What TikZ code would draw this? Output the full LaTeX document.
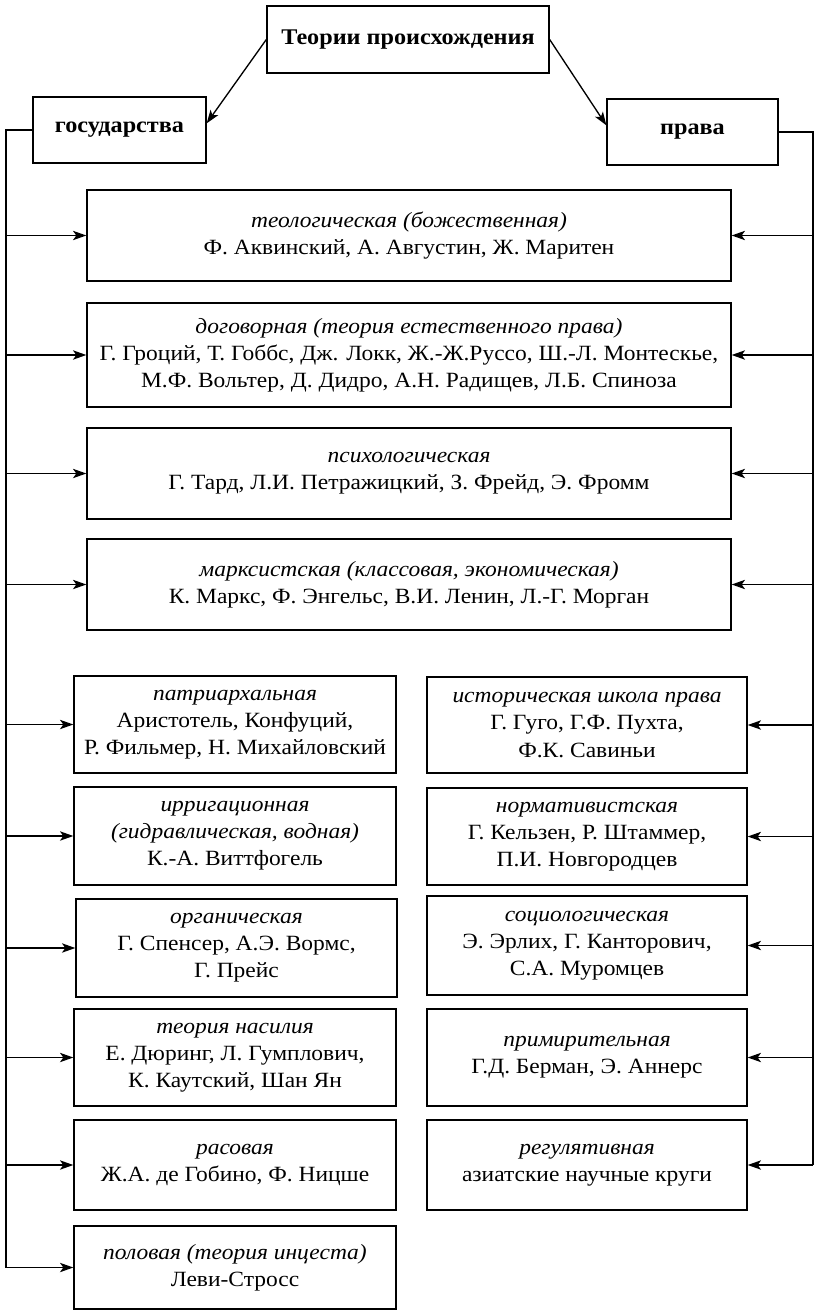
\documentclass[tikz,border=0pt]{standalone}
\usepackage{fontspec}
\setmainfont[FakeStretch=1.08]{Liberation Serif}
\usetikzlibrary{arrows.meta}
\tikzset{
  box/.style={draw, line width=1pt, inner sep=0pt, align=center,
    font=\fontsize{16.3}{20.3}\selectfont},
  head/.style={box, font=\fontsize{16.8}{20.5}\selectfont\bfseries},
  wide/.style={box, minimum width=483pt},
  lsmall/.style={box, minimum width=241.5pt},
  rsmall/.style={box, minimum width=240pt},
  bus/.style={line width=1pt},
  arr/.style={line width=1pt, -{Stealth[length=10pt,width=7pt,inset=2.5pt]}}
}
\newcommand{\ttl}[1]{\textit{#1}\\}
\begin{document}
\begin{tikzpicture}[x=0.75pt,y=-0.75pt]
\useasboundingbox (0,0) rectangle (814,1313);
% headers
\node[head, minimum width=211.5pt, minimum height=50.25pt] (top) at (408,39.5) {Теории происхождения};
\node[head, minimum width=129.75pt, minimum height=49.5pt] (state) at (119.5,130) {государства};
\node[head, minimum width=128.25pt, minimum height=49.5pt] (law) at (692.5,132) {права};
% wide boxes
\node[wide, minimum height=68.25pt] (theo) at (409,235.5) {\ttl{теологическая (божественная)}Ф. Аквинский, А. Августин, Ж. Маритен};
\node[wide, minimum height=78pt] (contract) at (409,355) {\ttl{договорная (теория естественного права)}Г. Гроций, Т. Гоббс, Дж. Локк, Ж.-Ж.Руссо, Ш.-Л. Монтескье,\\М.Ф. Вольтер, Д. Дидро, А.Н. Радищев, Л.Б. Спиноза};
\node[wide, minimum height=68.25pt] (psych) at (409,473.5) {\ttl{психологическая}Г. Тард, Л.И. Петражицкий, З. Фрейд, Э. Фромм};
\node[wide, minimum height=68.25pt] (marx) at (409,584.5) {\ttl{марксистская (классовая, экономическая)}К. Маркс, Ф. Энгельс, В.И. Ленин, Л.-Г. Морган};
% left column
\node[lsmall, minimum height=72.75pt] (patri) at (235,724.5) {\ttl{патриархальная}Аристотель, Конфуций,\\Р. Фильмер, Н. Михайловский};
\node[lsmall, minimum height=73.5pt] (irrig) at (235,836) {\ttl{ирригационная}\ttl{(гидравлическая, водная)}К.-А. Виттфогель};
\node[box, minimum width=240.75pt, minimum height=73.5pt] (organic) at (236.5,948) {\ttl{органическая}Г. Спенсер, А.Э. Вормс,\\Г. Прейс};
\node[lsmall, minimum height=72.75pt] (violence) at (235,1057.5) {\ttl{теория насилия}Е. Дюринг, Л. Гумплович,\\К. Каутский, Шан Ян};
\node[lsmall, minimum height=67.5pt] (race) at (235,1165) {\ttl{расовая}Ж.А. де Гобино, Ф. Ницше};
\node[lsmall, minimum height=62.25pt] (sex) at (235,1267.5) {\ttl{половая (теория инцеста)}Леви-Стросс};
% right column
\node[rsmall, minimum height=72pt] (hist) at (587,725) {\ttl{историческая школа права}Г. Гуго, Г.Ф. Пухта,\\Ф.К. Савиньи};
\node[rsmall, minimum height=72.75pt] (norm) at (587,836.5) {\ttl{нормативистская}Г. Кельзен, Р. Штаммер,\\П.И. Новгородцев};
\node[rsmall, minimum height=74.25pt] (socio) at (587,945.5) {\ttl{социологическая}Э. Эрлих, Г. Канторович,\\С.А. Муромцев};
\node[rsmall, minimum height=72.75pt] (concil) at (587,1057.5) {\ttl{примирительная}Г.Д. Берман, Э. Аннерс};
\node[rsmall, minimum height=67.5pt] (regul) at (587,1165) {\ttl{регулятивная}азиатские научные круги};
% top arrows
\draw[arr] (top.west) -- ([yshift=5pt]state.east);
\draw[arr] (top.east) -- ([yshift=5pt]law.west);
% buses
\coordinate (lb) at (6,0);
\coordinate (rb) at (813,0);
\draw[bus] (state.west) -- (lb |- state.west) -- (lb |- sex.west);
\draw[bus] (law.east) -- (rb |- law.east) -- (rb |- regul.east);
\foreach \n in {theo,contract,psych,marx,patri,irrig,organic,violence,race,sex}
  \draw[arr] (lb |- \n.west) -- (\n.west);
\foreach \n in {theo,contract,psych,marx,hist,norm,socio,concil,regul}
  \draw[arr] (rb |- \n.east) -- (\n.east);
\end{tikzpicture}
\end{document}
